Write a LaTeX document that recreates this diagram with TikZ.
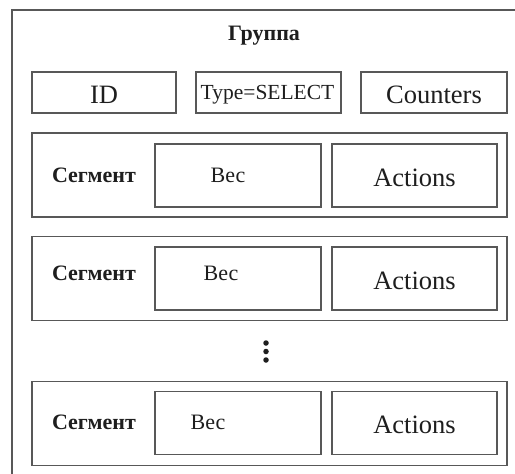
\documentclass[tikz,border=0pt]{standalone}
\usepackage{fontspec}
\setmainfont{Liberation Serif}
\begin{document}
\begin{tikzpicture}[x=1pt,y=-1pt,
  line width=1.6pt,
  frame/.style={draw=linegray},
  field/.style={draw=linegray, minimum height=41pt, inner sep=0pt},
  cell/.style={draw=linegray, minimum width=165pt, minimum height=63pt, inner sep=0pt},
  segbox/.style={draw=linegray, minimum width=475pt, minimum height=84pt, inner sep=0pt},
  bigtxt/.style={font=\fontsize{26.5}{28}\selectfont, text=textgray, inner sep=0pt},
  ruslbl/.style={font=\fontsize{22}{24}\selectfont\bfseries, text=textgray, inner sep=0pt},
  weight/.style={font=\fontsize{22}{24}\selectfont, text=textgray, inner sep=0pt},
  dot/.style={circle, fill=textgray, minimum size=5.5pt, inner sep=0pt}
]
\definecolor{linegray}{RGB}{88,88,88}
\definecolor{textgray}{RGB}{30,30,30}
\useasboundingbox (0,0) rectangle (515,474);
\clip (0,0) rectangle (515,474);
\fill[white] (0,0) rectangle (515,474);

% group frame, running off the right and bottom edges
\draw[frame] (12,10) rectangle (530,490);
\node[ruslbl] (title) at (264,36) {Группа};

% header fields
\node[field, minimum width=144pt] (id) at (104,92.5) {};
\node[bigtxt] (idt) at ([yshift=-2.5pt]id.center) {ID};
\node[field, minimum width=145pt] (type) at (268.5,92.5) {};
\node[bigtxt, font=\fontsize{21.5}{23}\selectfont] (typet) at ([xshift=-1pt,yshift=-2pt]type.center) {Type=SELECT};
\node[field, minimum width=146pt] (cnt) at (434,92.5) {};
\node[bigtxt] (cntt) at ([yshift=-2.5pt]cnt.center) {Counters};

% segments
\foreach \n/\yo/\yi/\ly/\wx/\wy in {1/175/175.5/175/228/175, 2/278.5/278.5/273/221/273, 3/423.5/423/422/208/422}{
  \node[segbox] (seg\n) at (269.5,\yo) {};
  \node[cell, minimum width=166pt] (w\n) at (238,\yi) {};
  \node[cell] (a\n) at (414.5,\yi) {};
  \node[ruslbl] (sl\n) at (94,\ly) {Сегмент};
  \node[weight] (wl\n) at (\wx,\wy) {Вес};
  \node[bigtxt] (al\n) at ([yshift=-2pt]a\n.center) {Actions};
}

% ellipsis between segments
\node[dot] (d1) at (266,343) {};
\node[dot] (d2) at (266,351.5) {};
\node[dot] (d3) at (266,360) {};
\end{tikzpicture}
\end{document}
